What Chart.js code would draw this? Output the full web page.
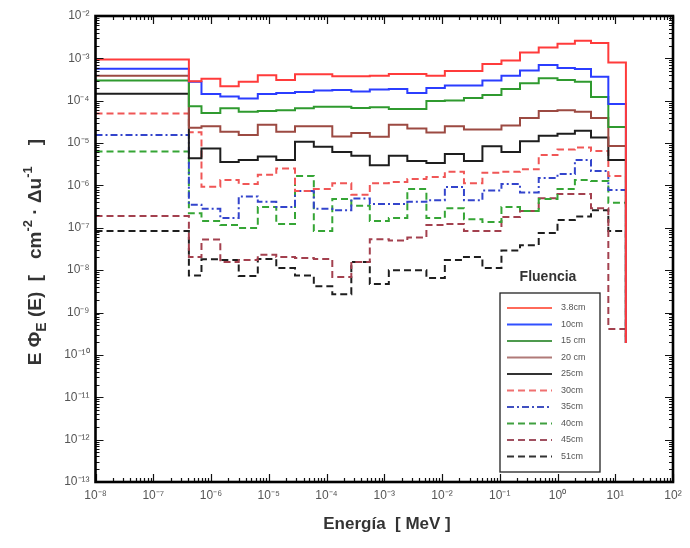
<!DOCTYPE html>
<html><head><meta charset="utf-8">
<script src="https://cdn.jsdelivr.net/npm/chart.js@4.4.1/dist/chart.umd.min.js"></script>
<style>html,body{margin:0;padding:0;background:#fff}#wrap{width:690px;height:548px;position:relative}</style>
</head><body><div id="wrap"><canvas id="c" width="690" height="548"></canvas></div>
<script>
// Energy bin edges [MeV]
const binEdges = [1e-8, 4.14e-7, 6.84e-7, 1.45e-6, 3.02e-6, 6.46e-6, 1.35e-5, 2.85e-5, 6.03e-5, 1.26e-4, 2.69e-4, 5.62e-4, 1.2e-3, 2.51e-3, 5.37e-3, 1.12e-2, 2.4e-2, 5.01e-2, 0.107, 0.224, 0.473, 1.0, 2.0, 3.8, 7.59, 15.3];
const seriesNames = ['3.8cm', '10cm', '15 cm', '20 cm', '25cm', '30cm', '35cm', '40cm', '45cm', '51cm'];
const d38 = [9.4e-4, 2.9e-4, 3.3e-4, 2.2e-4, 2.8e-4, 4.0e-4, 3.1e-4, 4.2e-4, 4.2e-4, 3.8e-4, 3.8e-4, 3.9e-4, 4.3e-4, 4.3e-4, 3.9e-4, 5.0e-4, 5.0e-4, 7.4e-4, 8.9e-4, 1.37e-3, 1.8e-3, 2.2e-3, 2.6e-3, 2.3e-3, 8.0e-4];
const d10 = [5.7e-4, 2.8e-4, 1.44e-4, 1.26e-4, 1.13e-4, 1.44e-4, 1.52e-4, 1.61e-4, 1.74e-4, 1.79e-4, 1.65e-4, 1.84e-4, 1.89e-4, 1.52e-4, 2.0e-4, 2.3e-4, 2.3e-4, 3.0e-4, 3.9e-4, 5.2e-4, 7.0e-4, 5.9e-4, 5.6e-4, 3.7e-4, 8.4e-5];
const d15 = [3.0e-4, 7.4e-5, 5.1e-5, 6.6e-5, 5.5e-5, 5.7e-5, 6.0e-5, 6.6e-5, 7.2e-5, 7.2e-5, 6.7e-5, 7.0e-5, 6.4e-5, 6.4e-5, 9.9e-5, 1.01e-4, 1.16e-4, 1.36e-4, 1.89e-4, 2.6e-4, 3.4e-4, 3.1e-4, 2.8e-4, 1.22e-4, 2.4e-5];
const d20 = [3.9e-4, 2.3e-5, 2.5e-5, 1.86e-5, 1.55e-5, 2.7e-5, 1.86e-5, 2.5e-5, 2.5e-5, 1.43e-5, 1.73e-5, 1.42e-5, 2.7e-5, 2.2e-5, 1.78e-5, 2.5e-5, 2.1e-5, 2.1e-5, 2.6e-5, 3.9e-5, 5.7e-5, 6.0e-5, 5.5e-5, 3.9e-5, 8.5e-6];
const d25 = [1.46e-4, 4.4e-6, 7.5e-6, 3.6e-6, 4.0e-6, 4.8e-6, 4.0e-6, 1.08e-5, 8.2e-6, 6.2e-6, 5.0e-6, 3.0e-6, 5.0e-6, 3.8e-6, 3.4e-6, 5.5e-6, 3.8e-6, 8.4e-6, 6.2e-6, 1.1e-5, 1.5e-5, 1.66e-5, 1.95e-5, 1.35e-5, 4.0e-6];
const d30 = [5.0e-5, 1.8e-5, 9.3e-7, 1.34e-6, 1.08e-6, 1.8e-6, 2.5e-6, 7.4e-7, 8.2e-7, 1.12e-6, 6.0e-7, 1.12e-6, 1.2e-6, 1.42e-6, 1.58e-6, 2.1e-6, 1.12e-6, 2.0e-6, 2.1e-6, 2.4e-6, 5.2e-6, 7.1e-6, 7.9e-6, 6.5e-6, 1.67e-6];
const d35 = [1.55e-5, 3.5e-7, 2.8e-7, 1.7e-7, 5.5e-7, 4.1e-7, 3.1e-7, 7.4e-7, 2.8e-7, 2.6e-7, 4.9e-7, 3.65e-7, 3.65e-7, 4.1e-7, 4.5e-7, 9.2e-7, 4.5e-7, 7.6e-7, 1.08e-6, 6.8e-7, 1.5e-6, 1.86e-6, 4.0e-6, 2.2e-6, 7.8e-7];
const d40 = [6.3e-6, 2.2e-7, 1.45e-7, 1.16e-7, 9.9e-8, 3.1e-7, 1.23e-7, 1.67e-6, 8.4e-8, 4.8e-7, 3.3e-7, 1.45e-7, 1.7e-7, 8.2e-7, 1.7e-7, 2.9e-7, 1.6e-7, 1.37e-7, 3.1e-7, 2.5e-7, 4.8e-7, 8.2e-7, 1.34e-6, 1.27e-6, 3.9e-7];
const d45 = [1.9e-7, 2.05e-8, 5.3e-8, 1.56e-8, 1.74e-8, 2.3e-8, 2.05e-8, 1.94e-8, 1.83e-8, 6.9e-9, 1.56e-8, 5.4e-8, 5.0e-8, 5.9e-8, 1.16e-7, 1.23e-7, 8.4e-8, 8.4e-8, 1.8e-7, 2.5e-7, 5.0e-7, 6.3e-7, 6.3e-7, 2.9e-7, 4.1e-10];
const d51 = [8.4e-8, 7.5e-9, 1.8e-8, 1.74e-8, 7.3e-9, 1.83e-8, 1.12e-8, 7.5e-9, 4.2e-9, 2.7e-9, 1.56e-8, 4.7e-9, 1.0e-8, 1.0e-8, 6.5e-9, 1.74e-8, 2.05e-8, 1.12e-8, 2.9e-8, 3.9e-8, 7.5e-8, 1.53e-7, 1.85e-7, 2.6e-7, 8.4e-8];
const endDropValue = 1.9e-10;
const xTickValues = [1e-8, 1e-7, 1e-6, 1e-5, 1e-4, 1e-3, 1e-2, 1e-1, 1e0, 1e1, 1e2];
const xTickLabels = ['10⁻⁸', '10⁻⁷', '10⁻⁶', '10⁻⁵', '10⁻⁴', '10⁻³', '10⁻²', '10⁻¹', '10⁰', '10¹', '10²'];
const yTickValues = [1e-13, 1e-12, 1e-11, 1e-10, 1e-9, 1e-8, 1e-7, 1e-6, 1e-5, 1e-4, 1e-3, 1e-2];
const yTickLabels = ['10⁻¹³', '10⁻¹²', '10⁻¹¹', '10⁻¹⁰', '10⁻⁹', '10⁻⁸', '10⁻⁷', '10⁻⁶', '10⁻⁵', '10⁻⁴', '10⁻³', '10⁻²'];

const allSeries = [d38, d10, d15, d20, d25, d30, d35, d40, d45, d51];
const colors = ['#ff3b3b', '#2b3dff', '#2f9a2f', '#9c4a42', '#1e1e1e', '#f05656', '#3344cc', '#35a535', '#a3404e', '#1e1e1e'];
const legendColors = ['#ff6a5a', '#3050ff', '#4d9a4d', '#b07a78', '#333333', '#f07070', '#4050c0', '#40a040', '#a05060', '#333333'];
const dashes = [[], [], [], [], [], [7, 4], [7, 3, 2, 3], [7, 4], [7, 4], [7, 4]];

function stepPoints(vals) {
  const pts = vals.map((v, i) => ({ x: binEdges[i], y: v }));
  pts.push({ x: binEdges[binEdges.length - 1], y: vals[vals.length - 1] });
  pts.push({ x: binEdges[binEdges.length - 1], y: endDropValue });
  return pts;
}

const datasets = allSeries.map((vals, i) => ({
  label: seriesNames[i],
  data: stepPoints(vals),
  borderColor: colors[i],
  borderWidth: 2,
  borderDash: dashes[i],
  stepped: 'before',
  pointRadius: 0,
  fill: false,
  tension: 0
}));

function mval(m, d) { return Number(m + 'e' + d); }
const FONT = '"Liberation Sans", Arial, sans-serif';

const decor = {
  id: 'decor',
  afterDatasetsDraw(chart) {
    const { ctx, chartArea: a, scales: { x, y } } = chart;
    ctx.save();
    ctx.strokeStyle = '#111';
    ctx.lineWidth = 1.2;
    ctx.beginPath();
    for (let d = -8; d <= 2; d++) {
      for (let m = 1; m <= 9; m++) {
        const v = mval(m, d);
        if (v > 100) break;
        const px = Math.round(x.getPixelForValue(v)) + 0.5;
        const L = m === 1 ? 8 : 4;
        ctx.moveTo(px, a.bottom); ctx.lineTo(px, a.bottom - L);
        ctx.moveTo(px, a.top); ctx.lineTo(px, a.top + L);
      }
    }
    for (let d = -13; d <= -2; d++) {
      for (let m = 1; m <= 9; m++) {
        const v = mval(m, d);
        if (v > 1e-2 * 1.0001) break;
        const py = Math.round(y.getPixelForValue(v)) + 0.5;
        const L = m === 1 ? 8 : 4;
        ctx.moveTo(a.left, py); ctx.lineTo(a.left + L, py);
        ctx.moveTo(a.right, py); ctx.lineTo(a.right - L, py);
      }
    }
    ctx.stroke();
    ctx.lineWidth = 2.6;
    ctx.strokeStyle = '#000';
    ctx.strokeRect(a.left, a.top, a.right - a.left, a.bottom - a.top);

    // Legend
    const bx = 500, by = 293, bw = 100, bh = 179;
    ctx.fillStyle = '#fff';
    ctx.fillRect(bx, by, bw, bh);
    ctx.lineWidth = 1.3;
    ctx.strokeStyle = '#222';
    ctx.strokeRect(bx, by, bw, bh);
    ctx.fillStyle = '#333';
    ctx.font = 'bold 14px ' + FONT;
    ctx.textAlign = 'center';
    ctx.textBaseline = 'middle';
    ctx.fillText('Fluencia', 548, 277);
    ctx.font = '9px ' + FONT;
    ctx.textAlign = 'left';
    for (let i = 0; i < seriesNames.length; i++) {
      const ry = 308 + i * 16.5;
      ctx.beginPath();
      ctx.setLineDash(dashes[i]);
      ctx.strokeStyle = legendColors[i];
      ctx.lineWidth = 2.2;
      ctx.moveTo(507, ry); ctx.lineTo(552, ry);
      ctx.stroke();
      ctx.setLineDash([]);
      ctx.fillStyle = '#555';
      ctx.fillText(seriesNames[i], 561, ry);
    }

    // Axis titles
    ctx.fillStyle = '#333';
    ctx.font = 'bold 17px ' + FONT;
    ctx.textAlign = 'center';
    ctx.textBaseline = 'alphabetic';
    ctx.fillText('Energía  [ MeV ]', 387, 529);

    const parts = [
      { t: 'E \u03A6', s: 19, dy: 0 },
      { t: 'E', s: 14, dy: 5 },
      { t: ' (E)  [   cm', s: 19, dy: 0 },
      { t: '-2', s: 13, dy: -9 },
      { t: ' \u00B7 \u0394u', s: 19, dy: 0 },
      { t: '-1', s: 13, dy: -9 },
      { t: '    ]', s: 19, dy: 0 }
    ];
    ctx.save();
    ctx.translate(34, 252);
    ctx.rotate(-Math.PI / 2);
    let total = 0;
    parts.forEach(p => { ctx.font = 'bold ' + p.s + 'px ' + FONT; p.w = ctx.measureText(p.t).width; total += p.w; });
    let cx = -total / 2;
    ctx.textAlign = 'left';
    parts.forEach(p => { ctx.font = 'bold ' + p.s + 'px ' + FONT; ctx.fillText(p.t, cx, 7 + p.dy); cx += p.w; });
    ctx.restore();
    ctx.restore();
  }
};

new Chart(document.getElementById('c'), {
  type: 'line',
  data: { datasets },
  options: {
    responsive: false,
    animation: false,
    devicePixelRatio: 1,
    layout: { padding: { left: 0, right: 17, top: 16, bottom: 0 } },
    plugins: { legend: { display: false }, tooltip: { enabled: false } },
    scales: {
      x: {
        type: 'logarithmic', min: 1e-8, max: 1e2,
        grid: { display: false, drawTicks: false }, border: { display: false },
        afterBuildTicks: s => { s.ticks = xTickValues.map(v => ({ value: v })); },
        afterFit: s => { s.height = 66; },
        ticks: { autoSkip: false, maxRotation: 0, padding: 6, color: '#555', font: { size: 12, family: FONT },
          callback: (v, i) => xTickLabels[i] }
      },
      y: {
        type: 'logarithmic', min: 1e-13, max: 1e-2,
        grid: { display: false, drawTicks: false }, border: { display: false },
        afterBuildTicks: s => { s.ticks = yTickValues.map(v => ({ value: v })); },
        afterFit: s => { s.width = 95.5; },
        ticks: { autoSkip: false, padding: 6, color: '#555', font: { size: 12, family: FONT },
          callback: (v, i) => yTickLabels[i] }
      }
    }
  },
  plugins: [decor]
});
</script></body></html>
